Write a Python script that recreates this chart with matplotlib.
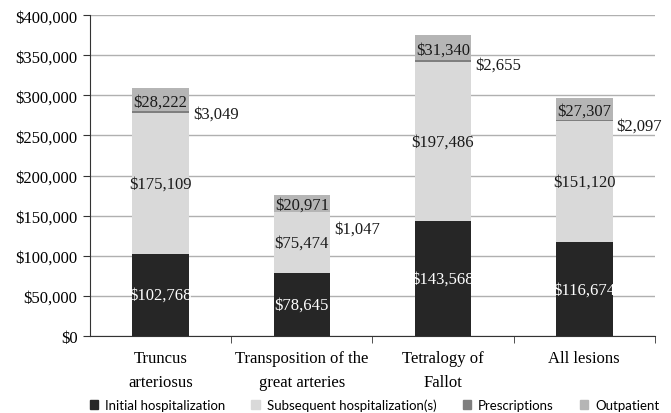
import matplotlib.pyplot as plt
import numpy as np
from matplotlib.patches import Patch

# Data
cats = ['Truncus\narteriosus', 'Transposition of the\ngreat arteries', 'Tetralogy of\nFallot', 'All lesions']
initial = [102768, 78645, 143568, 116674]
subsequent = [175109, 75474, 197486, 151120]
prescriptions = [3049, 1047, 2655, 2097]
outpatient = [28222, 20971, 31340, 27307]
series_names = ['Initial hospitalization', 'Subsequent hospitalization(s)', 'Prescriptions', 'Outpatient']
colors = ['#262626', '#d9d9d9', '#7f7f7f', '#b5b5b5']

serif = ['Liberation Serif', 'DejaVu Serif']
money = lambda v: '${:,.0f}'.format(v)

fig = plt.figure(figsize=(6.71, 4.14), dpi=100)
ax = fig.add_axes([0.134, 0.186, 0.842, 0.775])

x = np.arange(len(cats))
w = 0.4
bottom = np.zeros(len(cats))
data = [initial, subsequent, prescriptions, outpatient]
for vals, c in zip(data, colors):
    ax.bar(x, vals, w, bottom=bottom, color=c, zorder=3)
    bottom = bottom + np.array(vals)

# segment labels
b0 = np.array(initial, float)
b1 = b0 + np.array(subsequent)
b2 = b1 + np.array(prescriptions)
for i in range(len(cats)):
    ax.text(x[i], b0[i] / 2, money(initial[i]), ha='center', va='center',
            color='white', fontsize=12, family=serif, zorder=4)
    ax.text(x[i], b0[i] + subsequent[i] / 2, money(subsequent[i]), ha='center', va='center',
            color='#1a1a1a', fontsize=12, family=serif, zorder=4)
    ax.text(x[i], b2[i] + outpatient[i] / 2 - 2500, money(outpatient[i]), ha='center', va='center',
            color='#1a1a1a', fontsize=12, family=serif, zorder=4)

pres_off = [-1, -12, -2, -4]  # points, Excel nudged these
for i in range(len(cats)):
    ax.annotate(money(prescriptions[i]), (x[i] + w / 2, (b1[i] + b2[i]) / 2),
                xytext=(3, pres_off[i]), textcoords='offset points',
                ha='left', va='center', fontsize=12, family=serif, color='#1a1a1a', zorder=4)

ax.set_ylim(0, 400000)
ax.set_xlim(-0.5, len(cats) - 0.5)
ax.set_yticks(np.arange(0, 400001, 50000))
ax.set_yticklabels([money(v) for v in np.arange(0, 400001, 50000)], family=serif, fontsize=12)
ax.yaxis.grid(True, color='#b0b0b0', linewidth=1, zorder=0)

ax.set_xticks(x)
ax.set_xticklabels(cats, family=serif, fontsize=12, linespacing=1.65)
ax.tick_params(axis='x', length=0, pad=10)
ax.set_xticks(np.arange(0.5, len(cats), 1), minor=True)
ax.tick_params(axis='x', which='minor', length=5, direction='out', color='#333333')
ax.tick_params(axis='y', length=5, direction='out', color='#333333', pad=4)

for s in ['top', 'right']:
    ax.spines[s].set_visible(False)
for s in ['left', 'bottom']:
    ax.spines[s].set_color('#333333')

handles = [Patch(color=c) for c in colors]
fig.legend(handles, series_names, loc='center', bbox_to_anchor=(0.558, 0.02), ncol=4,
           frameon=False, prop={'family': ['Lato', 'DejaVu Sans'], 'size': 9.5},
           handlelength=0.65, handleheight=0.65, handletextpad=0.5, columnspacing=2.0,
           borderpad=0)

fig.savefig('out.png', dpi=100)
